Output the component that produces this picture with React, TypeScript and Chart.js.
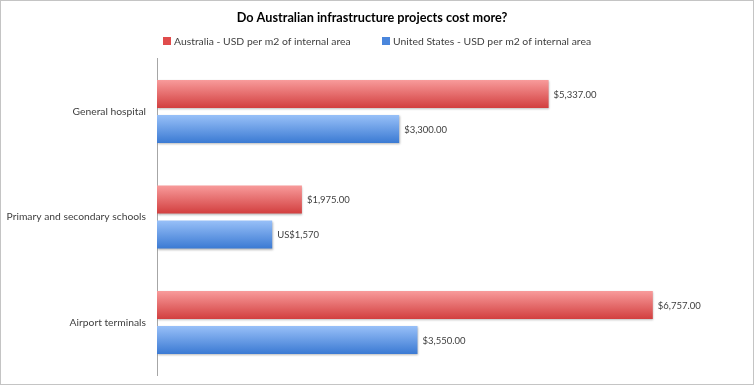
import React, { useEffect, useRef } from "react";
import { Chart, registerables } from "chart.js";

Chart.register(...registerables);

const TITLE = "Do Australian infrastructure projects cost more?";
const categories = ["General hospital", "Primary and secondary schools", "Airport terminals"];
const seriesNames = [
  "Australia - USD per m2 of internal area",
  "United States - USD per m2 of internal area",
];
const australia = [5337, 1975, 6757];
const unitedStates = [3300, 1570, 3550];
const australiaLabels = ["$5,337.00", "$1,975.00", "$6,757.00"];
const unitedStatesLabels = ["$3,300.00", "US$1,570", "$3,550.00"];
const xMax = 8000;

const FONT = "Lato, 'Open Sans', sans-serif";
const GRADS = [
  { top: "#f89b9b", bottom: "#d23f3f", solid: "#e04c4c" },
  { top: "#98c0f8", bottom: "#3b7ad3", solid: "#4a86dc" },
];
const valueLabels = [australiaLabels, unitedStatesLabels];

const decorPlugin = {
  id: "decor",
  beforeDraw(chart: any) {
    const { ctx, width, height } = chart;
    ctx.save();
    ctx.fillStyle = "#ffffff";
    ctx.fillRect(0, 0, width, height);
    ctx.strokeStyle = "#c4c4c4";
    ctx.lineWidth = 1;
    ctx.strokeRect(0.5, 0.5, width - 1, height - 1);
    // legend
    ctx.font = `10.4px ${FONT}`;
    ctx.textBaseline = "middle";
    const ly = 41;
    const items = [
      { x: 163, name: seriesNames[0], color: GRADS[0].solid },
      { x: 382, name: seriesNames[1], color: GRADS[1].solid },
    ];
    for (const it of items) {
      ctx.fillStyle = it.color;
      ctx.fillRect(it.x, ly - 4, 8, 8);
      ctx.fillStyle = "#404040";
      ctx.fillText(it.name, it.x + 11, ly + 0.5);
    }
    ctx.restore();
  },
  beforeDatasetsDraw(chart: any) {
    const { ctx } = chart;
    chart.data.datasets.forEach((_: any, di: number) => {
      const meta = chart.getDatasetMeta(di);
      meta.data.forEach((bar: any) => {
        const h = bar.height;
        const g = ctx.createLinearGradient(0, bar.y - h / 2, 0, bar.y + h / 2);
        g.addColorStop(0, GRADS[di].top);
        g.addColorStop(1, GRADS[di].bottom);
        bar.options = { ...bar.options, backgroundColor: g };
      });
    });
    ctx.save();
    ctx.shadowColor = "rgba(0,0,0,0.28)";
    ctx.shadowBlur = 2;
    ctx.shadowOffsetY = 1.5;
    ctx.shadowOffsetX = 0.5;
  },
  afterDatasetsDraw(chart: any) {
    chart.ctx.restore();
  },
  afterDraw(chart: any) {
    const { ctx } = chart;
    ctx.save();
    ctx.font = `9.5px ${FONT}`;
    ctx.fillStyle = "#404040";
    ctx.textBaseline = "middle";
    ctx.textAlign = "left";
    chart.data.datasets.forEach((_: any, di: number) => {
      const meta = chart.getDatasetMeta(di);
      meta.data.forEach((bar: any, i: number) => {
        ctx.fillText(valueLabels[di][i], bar.x + 5, bar.y + 0.5);
      });
    });
    ctx.restore();
  },
};

export default function App() {
  const ref = useRef<HTMLCanvasElement>(null);
  useEffect(() => {
    document.body.style.margin = "0";
    const chart = new Chart(ref.current!, {
      type: "bar",
      data: {
        labels: categories,
        datasets: [
          {
            label: seriesNames[0],
            data: australia,
            backgroundColor: GRADS[0].solid,
            borderWidth: 0,
            categoryPercentage: 0.6635,
            barPercentage: 0.8,
          },
          {
            label: seriesNames[1],
            data: unitedStates,
            backgroundColor: GRADS[1].solid,
            borderWidth: 0,
            categoryPercentage: 0.6635,
            barPercentage: 0.8,
          },
        ],
      },
      options: {
        indexAxis: "y",
        animation: false,
        responsive: false,
        devicePixelRatio: 1,
        layout: { padding: { left: 0, right: 10, top: 0, bottom: 9.75 } },
        plugins: {
          legend: { display: false },
          tooltip: { enabled: false },
          title: {
            display: true,
            text: TITLE,
            color: "#000000",
            font: { family: FONT, size: 12.7, weight: "bold", lineHeight: 1.2 },
            padding: { top: 10.5, bottom: 33 },
          },
        },
        scales: {
          x: {
            min: 0,
            max: xMax,
            display: false,
          },
          y: {
            grid: {
              display: true,
              drawOnChartArea: false,
              drawTicks: true,
              tickLength: 11,
              tickColor: "rgba(0,0,0,0)",
            },
            border: { display: true, color: "#a6a6a6", width: 1 },
            ticks: {
              color: "#404040",
              font: { family: FONT, size: 10.3 },
              padding: 0,
            },
            afterFit(scale: any) {
              scale.width = 157;
            },
          },
        },
      },
      plugins: [decorPlugin],
    });
    return () => chart.destroy();
  }, []);
  return <canvas ref={ref} width={754} height={385} style={{ display: "block" }} />;
}
